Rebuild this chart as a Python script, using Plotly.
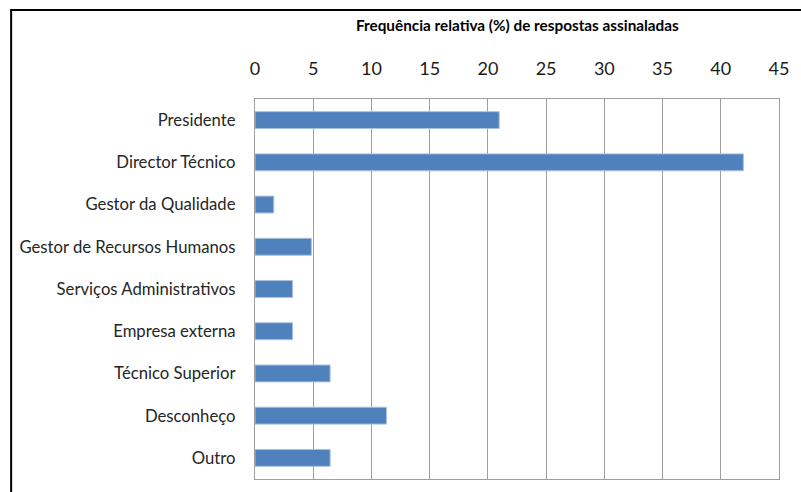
import plotly.graph_objects as go

# Survey answers: who fills the role (relative frequency, %)
categories = [
    "Presidente",
    "Director Técnico",
    "Gestor da Qualidade",
    "Gestor de Recursos Humanos",
    "Serviços Administrativos",
    "Empresa externa",
    "Técnico Superior",
    "Desconheço",
    "Outro",
]
values = [20.97, 41.94, 1.61, 4.84, 3.23, 3.23, 6.45, 11.29, 6.45]
x_ticks = [0, 5, 10, 15, 20, 25, 30, 35, 40, 45]
axis_title = "Frequência relativa (%) de respostas assinaladas"

FONT = "Lato, Calibri, Carlito, sans-serif"
GRID = "#9e9e9e"

fig = go.Figure(
    go.Bar(
        x=values,
        y=categories,
        orientation="h",
        width=0.4,
        marker=dict(color="#4f81bd", line=dict(color="#a9c0df", width=1)),
    )
)

W, H = 801, 492
ml, mr, mt, mb = 254.5, 19, 99, 13
pw, ph = W - ml - mr, H - mt - mb

def px_x(p):
    return (p - ml) / pw

def px_y(p):
    return (H - mb - p) / ph

fig.update_layout(
    width=W,
    height=H,
    margin=dict(l=ml, r=mr, t=mt, b=mb, pad=0),
    paper_bgcolor="white",
    plot_bgcolor="white",
    showlegend=False,
    font=dict(family=FONT, color="#262626"),
    xaxis=dict(
        side="top",
        range=[0, 45],
        tickvals=x_ticks,
        ticktext=[str(v) for v in x_ticks],
        tickfont=dict(size=18, color="#1a1a1a"),
        ticks="",
        ticklabelstandoff=16,
        showgrid=True,
        gridcolor=GRID,
        gridwidth=1.3,
        showline=True,
        linecolor=GRID,
        linewidth=1.3,
        mirror=True,
        zeroline=False,
        fixedrange=True,
    ),
    yaxis=dict(
        categoryorder="array",
        categoryarray=categories,
        autorange="reversed",
        tickfont=dict(size=16.7, color="#262626"),
        ticks="",
        ticklabelstandoff=15,
        showgrid=False,
        showline=True,
        linecolor=GRID,
        linewidth=1.3,
        mirror=True,
        fixedrange=True,
    ),
    annotations=[
        dict(
            text="<b>" + axis_title + "</b>",
            xref="paper",
            yref="paper",
            x=0.5,
            y=px_y(25),
            xanchor="center",
            yanchor="middle",
            showarrow=False,
            font=dict(size=15.3, color="#000000", family=FONT),
        )
    ],
    shapes=[
        dict(
            type="rect",
            xref="paper",
            yref="paper",
            x0=px_x(9),
            x1=px_x(830),
            y0=px_y(520),
            y1=px_y(10),
            line=dict(color="#000000", width=2),
            fillcolor="rgba(0,0,0,0)",
            layer="above",
        )
    ],
)

fig.write_html("out.html")
